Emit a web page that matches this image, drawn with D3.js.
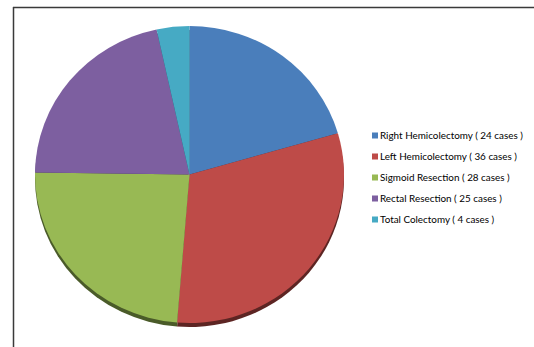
<!DOCTYPE html>
<html><head><meta charset="utf-8">
<script src="https://cdn.jsdelivr.net/npm/d3@7"></script>
<style>html,body{margin:0;padding:0;background:#fff;}svg{display:block;}</style>
</head><body>
<svg id="c" width="534" height="347"></svg>
<script>
const categories = ["Right Hemicolectomy", "Left Hemicolectomy", "Sigmoid Resection", "Rectal Resection", "Total Colectomy"];
const legendLabels = ["Right Hemicolectomy ( 24 cases )", "Left Hemicolectomy ( 36 cases )", "Sigmoid Resection ( 28 cases )", "Rectal Resection ( 25 cases )", "Total Colectomy ( 4 cases )"];
const cases = [24, 36, 28, 25, 4];
const colors = ["#4a7ebb", "#be4b48", "#98b954", "#7d5fa0", "#46aac4"];

const svg = d3.select("#c");
const cx = 189.5, cy = 174.5, rx = 154.5, ry = 148.5;

// frame
svg.append("line").attr("x1", 13).attr("x2", 534).attr("y1", 7.5).attr("y2", 7.5).attr("stroke", "#3a3a3a").attr("stroke-width", 1.5);
svg.append("line").attr("x1", 13.5).attr("x2", 13.5).attr("y1", 7).attr("y2", 347).attr("stroke", "#3a3a3a").attr("stroke-width", 1.5);

const pie = d3.pie().sort(null).value(d => d)(cases);
const arc = d3.arc().innerRadius(0).outerRadius(rx);

// shadow / depth
const shadow = svg.append("g").attr("transform", `translate(${cx},${cy + 4}) scale(1,${ry / rx})`);
shadow.selectAll("path").data(pie).join("path")
  .attr("d", arc)
  .attr("fill", (d, i) => d3.color(colors[i]).darker(2));

const g = svg.append("g").attr("transform", `translate(${cx},${cy}) scale(1,${ry / rx})`);
g.selectAll("path").data(pie).join("path")
  .attr("d", arc)
  .attr("fill", (d, i) => colors[i]);

// legend
const lg = svg.append("g");
const rows = lg.selectAll("g").data(legendLabels).join("g")
  .attr("transform", (d, i) => `translate(372,${136 + i * 21})`);
rows.append("rect").attr("x", 0).attr("y", -3.5).attr("width", 6).attr("height", 6)
  .attr("fill", (d, i) => colors[i]);
const txt = rows.append("text").attr("x", 8).attr("y", 0).attr("dy", "0.35em")
  .attr("font-family", "Lato, 'Open Sans', sans-serif").attr("font-size", 10.5).attr("fill", "#000")
  .text(d => d);
const w0 = txt.nodes()[0].getComputedTextLength();
const fs = 10.5 * 143 / w0;
txt.attr("font-size", fs);
</script>
</body></html>
